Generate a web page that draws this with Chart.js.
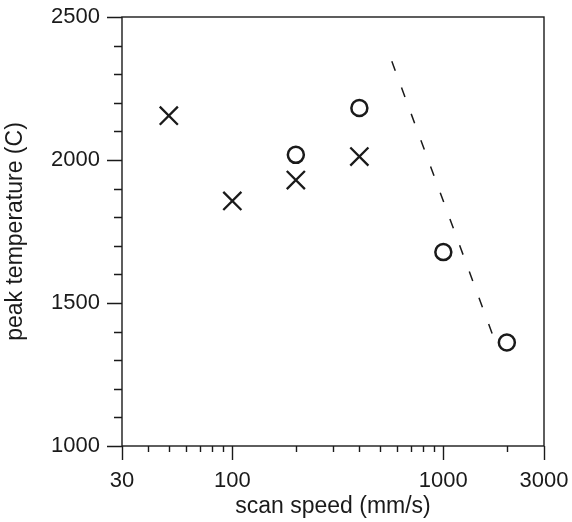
<!DOCTYPE html>
<html>
<head>
<meta charset="utf-8">
<script src="https://cdn.jsdelivr.net/npm/chart.js@4.4.0/dist/chart.umd.min.js"></script>
<style>
html, body { margin: 0; padding: 0; background: #fff; }
#wrap { width: 572px; height: 522px; }
</style>
</head>
<body>
<div id="wrap"><canvas id="g"></canvas></div>
<script>
// peak temperature vs scan speed
const crossSpeed = [50, 100, 200, 400];
const crossTemp = [2155, 1857, 1930, 2012];
const circleSpeed = [200, 400, 1000, 2000];
const circleTemp = [2018, 2182, 1678, 1362];
const fitSpeed = [570, 1720];
const fitTemp = [2345, 1385];

const xMajor = [30, 100, 1000, 3000];
const xMinor = [40, 50, 60, 70, 80, 90, 200, 300, 400, 500, 600, 700, 800, 900, 2000];
const yMajor = [1000, 1500, 2000, 2500];
const yMinor = [1100, 1200, 1300, 1400, 1600, 1700, 1800, 1900, 2100, 2200, 2300, 2400];

const ink = '#1a1a1a';
const family = "'Liberation Sans', Arial, Helvetica, sans-serif";
const tickFont = { family: family, size: 22 };
const titleFont = { family: family, size: 23 };

const toPoints = (xs, ys) => xs.map((x, i) => ({ x: x, y: ys[i] }));

// invisible grid, only used to push the labels away from the axis
const hiddenGrid = {
    display: true,
    drawOnChartArea: false,
    drawTicks: true,
    tickLength: 20,
    color: 'rgba(0,0,0,0)',
    tickColor: 'rgba(0,0,0,0)'
};

// tick marks and frame, placed through the chart scales
const frame = {
    id: 'frame',
    afterDraw(chart) {
        const { ctx, chartArea: a, scales } = chart;
        ctx.save();
        ctx.strokeStyle = ink;
        ctx.lineWidth = 1.4;
        ctx.strokeRect(a.left, a.top, a.right - a.left, a.bottom - a.top);
        ctx.beginPath();
        yMajor.forEach(v => {
            const y = Math.round(scales.y.getPixelForValue(v)) + 0.5;
            ctx.moveTo(a.left - 15, y); ctx.lineTo(a.left, y);
        });
        yMinor.forEach(v => {
            const y = Math.round(scales.y.getPixelForValue(v)) + 0.5;
            ctx.moveTo(a.left - 8, y); ctx.lineTo(a.left, y);
        });
        xMajor.forEach(v => {
            const x = Math.round(scales.x.getPixelForValue(v)) + 0.5;
            ctx.moveTo(x, a.bottom); ctx.lineTo(x, a.bottom + 14);
        });
        xMinor.forEach(v => {
            const x = Math.round(scales.x.getPixelForValue(v)) + 0.5;
            ctx.moveTo(x, a.bottom); ctx.lineTo(x, a.bottom + 6);
        });
        ctx.stroke();
        ctx.restore();
    }
};

const ctx = document.getElementById('g').getContext('2d');
new Chart(ctx, {
    type: 'scatter',
    data: {
        datasets: [
            {
                data: toPoints(crossSpeed, crossTemp),
                pointStyle: 'crossRot',
                pointRadius: 12.8,
                pointBorderWidth: 2.3,
                borderColor: ink
            },
            {
                data: toPoints(circleSpeed, circleTemp),
                pointStyle: 'circle',
                pointRadius: 8,
                pointBorderWidth: 2.5,
                borderColor: ink,
                backgroundColor: 'rgba(0,0,0,0)'
            },
            {
                type: 'line',
                data: toPoints(fitSpeed, fitTemp),
                borderColor: ink,
                borderWidth: 1.5,
                borderDash: [10, 18],
                pointRadius: 0,
                fill: false
            }
        ]
    },
    options: {
        responsive: true,
        maintainAspectRatio: false,
        devicePixelRatio: 1,
        animation: false,
        layout: { padding: { left: 0, right: 28, top: 17, bottom: 0 } },
        plugins: {
            legend: { display: false },
            tooltip: { enabled: false }
        },
        scales: {
            x: {
                type: 'logarithmic',
                min: 30,
                max: 3000,
                grid: hiddenGrid,
                border: { display: false },
                afterBuildTicks: s => { s.ticks = xMajor.map(v => ({ value: v })); },
                afterFit: s => { s.height = 76; },
                ticks: {
                    color: ink,
                    font: tickFont,
                    padding: 2,
                    maxRotation: 0,
                    autoSkip: false,
                    callback: v => String(v)
                },
                title: {
                    display: true,
                    text: 'scan speed (mm/s)',
                    color: ink,
                    font: titleFont,
                    padding: { top: 2, bottom: 2 }
                }
            },
            y: {
                type: 'linear',
                min: 1000,
                max: 2500,
                grid: hiddenGrid,
                border: { display: false },
                afterBuildTicks: s => { s.ticks = yMajor.map(v => ({ value: v })); },
                afterFit: s => { s.width = 122; },
                ticks: {
                    color: ink,
                    font: tickFont,
                    padding: 2,
                    autoSkip: false,
                    callback: v => String(v)
                },
                title: {
                    display: true,
                    text: 'peak temperature (C)',
                    color: ink,
                    font: titleFont,
                    padding: { top: 2, bottom: 0 }
                }
            }
        }
    },
    plugins: [frame]
});
</script>
</body>
</html>
